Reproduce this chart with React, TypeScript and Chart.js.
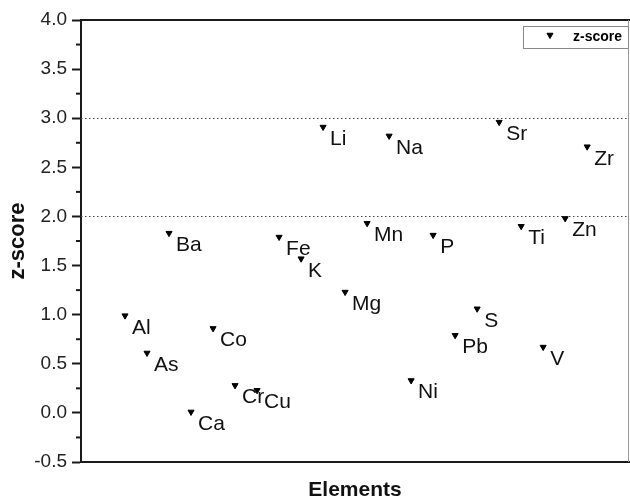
import React, { useEffect, useRef } from 'react';
import { Chart, registerables } from 'chart.js';

Chart.register(...registerables);

const ELEMENTS = ['Al', 'As', 'Ba', 'Ca', 'Co', 'Cr', 'Cu', 'Fe', 'K', 'Li', 'Mg', 'Mn', 'Na', 'Ni', 'P', 'Pb', 'S', 'Sr', 'Ti', 'V', 'Zn', 'Zr'];
const ZSCORES = [0.99, 0.61, 1.83, 0.01, 0.86, 0.28, 0.23, 1.79, 1.57, 2.91, 1.23, 1.93, 2.82, 0.33, 1.81, 0.79, 1.06, 2.96, 1.90, 0.67, 1.98, 2.71];
const THRESHOLDS = [2, 3];
const Y_MIN = -0.5;
const Y_MAX = 4;
const Y_STEP = 0.5;
const X_MIN = -1;
const X_MAX = 23.9;
const SERIES_LABEL = 'z-score';
const X_TITLE = 'Elements';
const Y_TITLE = 'z-score';

const FONT = '"Liberation Sans", Arial, sans-serif';
const INK = '#1a1a1a';

export default function App() {
  const ref = useRef<HTMLCanvasElement>(null);

  useEffect(() => {
    const canvas = ref.current;
    if (!canvas) return;

    const overlay = {
      id: 'overlay',
      afterLayout(chart: any) {
        // force the plot box to the reference geometry
        const ca = chart.chartArea;
        ca.right = 629;
        ca.width = ca.right - ca.left;
        const xs = chart.scales.x;
        xs.right = 629;
        xs.width = xs.right - xs.left;
        xs.configure();
      },
      beforeDatasetsDraw(chart: any) {
        const { ctx, chartArea } = chart;
        const ys = chart.scales.y;
        ctx.save();
        ctx.strokeStyle = '#444';
        ctx.lineWidth = 1.2;
        ctx.setLineDash([1.5, 2.5]);
        THRESHOLDS.forEach((t) => {
          const py = Math.round(ys.getPixelForValue(t)) + 0.5;
          ctx.beginPath();
          ctx.moveTo(chartArea.left, py);
          ctx.lineTo(chartArea.right, py);
          ctx.stroke();
        });
        ctx.restore();
      },
      afterDraw(chart: any) {
        const { ctx, chartArea } = chart;
        const ys = chart.scales.y;
        ctx.save();
        // frame top/right
        ctx.strokeStyle = INK;
        ctx.lineWidth = 2;
        ctx.beginPath();
        ctx.moveTo(chartArea.left, chartArea.top);
        ctx.lineTo(chartArea.right + 2, chartArea.top);
        ctx.stroke();
        ctx.strokeStyle = '#999';
        ctx.lineWidth = 1;
        ctx.beginPath();
        ctx.moveTo(chartArea.right - 0.5, chartArea.top);
        ctx.lineTo(chartArea.right - 0.5, chartArea.bottom);
        ctx.stroke();
        // minor ticks
        ctx.strokeStyle = INK;
        ctx.lineWidth = 2;
        for (let v = Y_MIN + Y_STEP / 2; v < Y_MAX; v += Y_STEP) {
          const py = ys.getPixelForValue(v);
          ctx.beginPath();
          ctx.moveTo(chartArea.left - 5, py);
          ctx.lineTo(chartArea.left, py);
          ctx.stroke();
        }
        // point labels
        const meta = chart.getDatasetMeta(0);
        ctx.fillStyle = '#111';
        ctx.font = `21px ${FONT}`;
        ctx.textAlign = 'left';
        ctx.textBaseline = 'alphabetic';
        meta.data.forEach((el: any, i: number) => {
          ctx.fillText(ELEMENTS[i], el.x + 7, el.y + 18);
        });
        // legend
        const bx = chartArea.right - 106;
        const by = chartArea.top + 6;
        ctx.fillStyle = '#fff';
        ctx.fillRect(bx, by, 105, 22);
        ctx.strokeStyle = '#888';
        ctx.lineWidth = 1;
        ctx.strokeRect(bx + 0.5, by + 0.5, 105, 22);
        ctx.fillStyle = '#000';
        ctx.strokeStyle = '#000';
        const ds = chart.data.datasets[0];
        ctx.beginPath();
        const cx = bx + 27;
        const cy = by + 9;
        const r = 3.5;
        for (let k = 0; k < 3; k++) {
          const a = Math.PI + (k * 2 * Math.PI) / 3;
          const px = cx + Math.sin(a) * r;
          const pyy = cy - Math.cos(a) * r;
          if (k === 0) ctx.moveTo(px, pyy);
          else ctx.lineTo(px, pyy);
        }
        ctx.closePath();
        ctx.fill();
        ctx.stroke();
        ctx.font = `bold 14px ${FONT}`;
        ctx.textBaseline = 'middle';
        ctx.fillText(ds.label, bx + 50, by + 11);
        ctx.restore();
      },
    };

    const chart = new Chart(canvas, {
      type: 'scatter',
      data: {
        datasets: [
          {
            label: SERIES_LABEL,
            data: ELEMENTS.map((_, i) => ({ x: i + 1, y: ZSCORES[i] })),
            pointStyle: 'triangle',
            rotation: 180,
            pointRadius: 3.5,
            pointHoverRadius: 3.5,
            backgroundColor: '#000',
            borderColor: '#000',
            borderWidth: 1,
          },
        ],
      },
      options: {
        responsive: false,
        animation: false,
        devicePixelRatio: 1,
        layout: { padding: { top: 20, right: 1, left: 0, bottom: 0 } },
        plugins: { legend: { display: false }, tooltip: { enabled: false } },
        scales: {
          x: {
            type: 'linear',
            min: X_MIN,
            max: X_MAX,
            ticks: { display: false },
            grid: { display: false, drawTicks: false },
            border: { display: true, color: INK, width: 2 },
            title: {
              display: true,
              text: X_TITLE,
              color: '#111',
              font: { family: FONT, size: 21, weight: 'bold', lineHeight: 1 },
              padding: { top: 0, bottom: -2 },
            },
            afterFit: (s: any) => {
              s.height = 37;
            },
          },
          y: {
            min: Y_MIN,
            max: Y_MAX,
            ticks: {
              stepSize: Y_STEP,
              color: '#222',
              padding: 5,
              font: { family: FONT, size: 19 },
              callback: (v: any) => Number(v).toFixed(1),
            },
            grid: { display: true, drawOnChartArea: false, drawTicks: true, tickLength: 9, tickColor: INK, tickWidth: 2 },
            border: { display: true, color: INK, width: 2 },
            title: {
              display: true,
              text: Y_TITLE,
              color: '#111',
              font: { family: FONT, size: 22, weight: 'bold', lineHeight: 1.2 },
              padding: { top: 5, bottom: 0 },
            },
            afterFit: (s: any) => {
              s.width = 81;
            },
          },
        },
      },
      plugins: [overlay],
    } as any);

    return () => chart.destroy();
  }, []);

  return (
    <canvas
      ref={ref}
      width={630}
      height={499}
      style={{ position: 'absolute', left: 0, top: 0, width: 630, height: 499 }}
    />
  );
}
